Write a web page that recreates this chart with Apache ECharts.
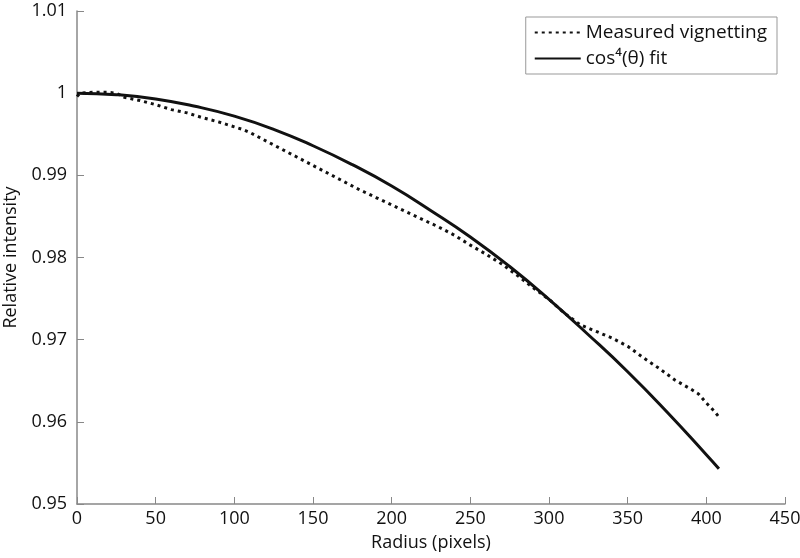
<!DOCTYPE html>
<html>
<head>
<meta charset="utf-8">
<script src="https://cdn.jsdelivr.net/npm/echarts@6/dist/echarts.min.js"></script>
<style>
  html, body { margin: 0; padding: 0; background: #fff; }
  #main { width: 800px; height: 558px; }
</style>
</head>
<body>
<div id="main"></div>
<script>
// measured vignetting (radius in pixels, relative intensity)
var measuredR = [0, 2, 10, 20, 25, 30, 40, 50, 60, 70, 80, 90, 100, 105, 110, 120, 130, 140, 150,
  160, 170, 180, 190, 200, 210, 220, 230, 240, 250, 260, 270, 280, 290, 300, 310, 320, 330,
  340, 350, 360, 370, 380, 390, 395, 400, 405, 408];
var measuredI = [0.9996, 1.0000, 1.0001, 1.0001, 1.0000, 0.9995, 0.9991, 0.9986, 0.9980, 0.9976,
  0.9970, 0.9965, 0.9959, 0.9956, 0.9952, 0.9942, 0.9932, 0.9922, 0.9912, 0.9902, 0.9892,
  0.9882, 0.9873, 0.9864, 0.9855, 0.9846, 0.9837, 0.9827, 0.9815, 0.9804, 0.9792, 0.9778,
  0.9763, 0.9749, 0.9732, 0.9718, 0.9710, 0.9702, 0.9692, 0.9678, 0.9665, 0.9651, 0.9640,
  0.9634, 0.9623, 0.9613, 0.9606];

// cos^4 fit
var fitR = [0, 25, 50, 75, 100, 125, 150, 175, 200, 225, 250, 275, 300, 325, 350, 375, 400, 408];
var fitI = [1.0000, 0.99982, 0.9993, 0.9984, 0.9972, 0.9956, 0.9936, 0.9913, 0.9887, 0.9857,
  0.9825, 0.9789, 0.9749, 0.9706, 0.9661, 0.9612, 0.9560, 0.9543];

function pairs(xs, ys) {
  return xs.map(function (x, i) { return [x, ys[i]]; });
}

var font = '"Open Sans", Lato, sans-serif';
var myChart = echarts.init(document.getElementById('main'));
myChart.setOption({
  animation: false,
  textStyle: { fontFamily: font },
  grid: { left: 77, right: 15, top: 11, bottom: 54, outerBoundsMode: 'none', containLabel: false },
  legend: {
    right: 23,
    top: 17,
    orient: 'vertical',
    backgroundColor: '#fff',
    borderColor: '#999',
    borderWidth: 1,
    borderRadius: 0,
    padding: [6, 10, 6, 8],
    itemGap: 7,
    itemWidth: 46,
    itemHeight: 20,
    itemStyle: { opacity: 0 },
    textStyle: { fontSize: 19, color: '#111', fontFamily: font },
    data: ['Measured vignetting', 'cos\u2074(\u03b8) fit']
  },
  xAxis: {
    type: 'value',
    min: 0,
    max: 450,
    interval: 50,
    name: 'Radius (pixels)',
    nameLocation: 'middle',
    nameGap: 30,
    nameTextStyle: { fontSize: 18, color: '#111' },
    axisLine: { lineStyle: { color: '#888', width: 1.5 } },
    axisTick: { inside: true, length: 7, lineStyle: { color: '#888' } },
    axisLabel: { fontSize: 18, color: '#111', margin: 6 },
    splitLine: { show: false }
  },
  yAxis: {
    type: 'value',
    min: 0.95,
    max: 1.01,
    interval: 0.01,
    name: 'Relative intensity',
    nameLocation: 'middle',
    nameGap: 57,
    nameTextStyle: { fontSize: 18, color: '#111' },
    axisLine: { show: true, lineStyle: { color: '#888', width: 1.5 } },
    axisTick: { show: true, inside: true, length: 7, lineStyle: { color: '#888' } },
    axisLabel: {
      fontSize: 18, color: '#111', margin: 10,
      formatter: function (v) { return String(+v.toFixed(2)); }
    },
    splitLine: { show: false }
  },
  series: [
    {
      name: 'Measured vignetting',
      type: 'line',
      data: pairs(measuredR, measuredI),
      showSymbol: false,
      symbol: 'none',
      color: '#111',
      lineStyle: { color: '#111', width: 3, type: [3, 4] }
    },
    {
      name: 'cos\u2074(\u03b8) fit',
      type: 'line',
      data: pairs(fitR, fitI),
      smooth: true,
      showSymbol: false,
      symbol: 'none',
      color: '#111',
      lineStyle: { color: '#111', width: 3 }
    }
  ]
});
</script>
</body>
</html>
